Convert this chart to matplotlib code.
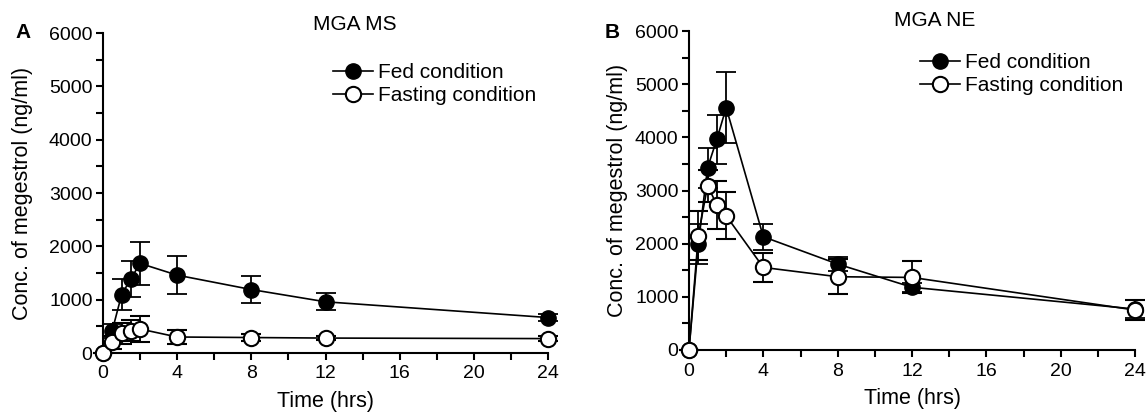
import matplotlib.pyplot as plt
from matplotlib.ticker import MultipleLocator

plt.rcParams['font.family'] = ['Liberation Sans', 'DejaVu Sans']

# sampling times (hrs)
time_hrs = [0, 0.5, 1, 1.5, 2, 4, 8, 12, 24]

# MGA MS
ms_fed = [0, 420, 1090, 1390, 1680, 1460, 1190, 960, 665]
ms_fed_err = [0, 130, 290, 340, 410, 360, 256, 160, 70]
ms_fast = [0, 200, 370, 420, 450, 300, 290, 280, 270]
ms_fast_err = [0, 120, 200, 200, 250, 130, 70, 45, 50]

# MGA NE
ne_fed = [0, 1990, 3430, 3965, 4560, 2130, 1616, 1180, 770]
ne_fed_err = [0, 380, 375, 460, 660, 240, 125, 80, 170]
ne_fast = [0, 2150, 3090, 2730, 2525, 1553, 1378, 1365, 752]
ne_fast_err = [0, 460, 300, 455, 445, 265, 325, 300, 180]

W, H = 1146, 416
fig = plt.figure(figsize=(W / 100, H / 100), dpi=100)
ax_a = fig.add_axes([103 / W, 1 - 353 / H, 445 / W, 320 / H])
ax_b = fig.add_axes([689 / W, 1 - 350 / H, 446 / W, 319 / H])


def draw_panel(ax, fed, fed_err, fast, fast_err, ylab_x, xlab_y, leg_xy):
    fed_line = ax.errorbar(time_hrs, fed, yerr=fed_err, color='black', marker='o',
                           markersize=11, markerfacecolor='black', markeredgecolor='black',
                           linewidth=1.2, elinewidth=1.3, capsize=7, capthick=1.3,
                           clip_on=False, zorder=3)
    fast_line = ax.errorbar(time_hrs, fast, yerr=fast_err, color='black', marker='o',
                            markersize=11, markerfacecolor='white', markeredgecolor='black',
                            markeredgewidth=1.5, linewidth=1.2, elinewidth=1.3, capsize=7,
                            capthick=1.3, clip_on=False, zorder=4)
    for c in fed_line.lines[1] + fed_line.lines[2] + fast_line.lines[1] + fast_line.lines[2]:
        c.set_clip_on(False)
    ax.set_xlim(0, 24)
    ax.set_ylim(0, 6000)
    ax.set_xticks([0, 4, 8, 12, 16, 20, 24])
    ax.xaxis.set_minor_locator(MultipleLocator(2))
    ax.yaxis.set_major_locator(MultipleLocator(1000))
    ax.yaxis.set_minor_locator(MultipleLocator(500))
    ax.spines['top'].set_visible(False)
    ax.spines['right'].set_visible(False)
    ax.spines['left'].set_linewidth(1.5)
    ax.spines['bottom'].set_linewidth(1.5)
    ax.tick_params(which='both', length=5, width=1.5, labelsize=14)
    ax.tick_params(axis='x', which='major', pad=4)
    ax.tick_params(axis='y', which='major', pad=2.5)
    ax.set_xlabel('Time (hrs)', fontsize=15.5)
    ax.set_ylabel('Conc. of megestrol (ng/ml)', fontsize=15.5)
    ax.xaxis.set_label_coords(0.5, xlab_y)
    ax.yaxis.set_label_coords(ylab_x, 0.5)
    fig.legend([fed_line[0], fast_line[0]], ['Fed condition', 'Fasting condition'],
               loc='center left', bbox_to_anchor=(leg_xy[0] / W, 1 - leg_xy[1] / H),
               frameon=False, fontsize=15, handlelength=1.9, handletextpad=0.25,
               labelspacing=0.2, borderpad=0, borderaxespad=0)


draw_panel(ax_a, ms_fed, ms_fed_err, ms_fast, ms_fast_err, -0.157, -0.12, (333, 84))
draw_panel(ax_b, ne_fed, ne_fed_err, ne_fast, ne_fast_err, -0.137, -0.12, (920, 74))

# panel titles and letters
fig.text(355 / W, 1 - 25 / H, 'MGA MS', fontsize=15, ha='center', va='center')
fig.text(935 / W, 1 - 20 / H, 'MGA NE', fontsize=15, ha='center', va='center')
fig.text(23 / W, 1 - 32 / H, 'A', fontsize=15, fontweight='bold', ha='center', va='center')
fig.text(612 / W, 1 - 32 / H, 'B', fontsize=15, fontweight='bold', ha='center', va='center')

fig.savefig('out.png', dpi=100)
